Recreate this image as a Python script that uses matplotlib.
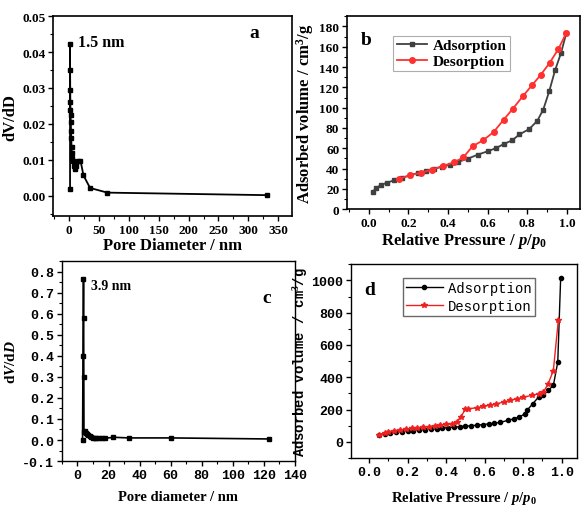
import numpy as np
import matplotlib
matplotlib.use('Agg')
import matplotlib.pyplot as plt
from matplotlib.ticker import MultipleLocator, FormatStrFormatter

# panel a: pore size distribution
a_d = [1.5, 1.5, 1.6, 1.8, 2.0, 2.2, 2.5, 2.8, 3.1, 3.5, 4.0, 4.5, 5.0, 6.0, 8.0, 10,
       12, 15, 19, 24, 35, 64, 331]
a_v = [0.002, 0.0423, 0.035, 0.0295, 0.026, 0.024, 0.0225, 0.0205, 0.018, 0.016,
       0.0135, 0.0118, 0.0105, 0.0098, 0.0082, 0.0075, 0.0082, 0.0098, 0.0098,
       0.0057, 0.0022, 0.0009, 0.0002]

# panel b: isotherm
b_ads_p = [0.02, 0.035, 0.064, 0.094, 0.13, 0.17, 0.21, 0.25, 0.29, 0.33, 0.37, 0.41,
           0.45, 0.50, 0.55, 0.60, 0.64, 0.68, 0.725, 0.76, 0.81, 0.85, 0.88, 0.91,
           0.94, 0.97, 0.997]
b_ads_v = [16.4, 20.6, 23.9, 26.2, 28.5, 31, 33.4, 35.7, 37.6, 39.6, 41.9, 43.8, 46.5,
           49.7, 53.7, 57, 60, 64, 68, 73.6, 79, 87, 98, 116, 137, 154, 174]
b_des_p = [0.997, 0.957, 0.912, 0.868, 0.823, 0.776, 0.727, 0.68, 0.63, 0.578, 0.524,
           0.477, 0.43, 0.373, 0.32, 0.266, 0.21, 0.153]
b_des_v = [174, 158, 144, 132.5, 122, 111, 99, 88, 76, 68, 62, 51, 46, 42.5, 39, 36,
           33.4, 30]

# panel c: pore size distribution
c_d = [3.3, 3.6, 3.9, 4.0, 4.1, 4.2, 4.6, 5.2, 6.0, 7.0, 8.0, 9.0, 10, 11, 12, 14, 16,
       18, 23, 33, 60, 123]
c_v = [0.0, 0.40, 0.765, 0.58, 0.30, 0.04, 0.042, 0.035, 0.028, 0.022, 0.018, 0.015,
       0.011, 0.009, 0.008, 0.008, 0.008, 0.008, 0.013, 0.010, 0.010, 0.005]

# panel d: isotherm
d_ads_p = [0.05, 0.08, 0.11, 0.14, 0.17, 0.2, 0.23, 0.26, 0.29, 0.32, 0.35, 0.38, 0.41,
           0.44, 0.47, 0.5, 0.53, 0.56, 0.59, 0.62, 0.65, 0.68, 0.72, 0.75, 0.78, 0.81,
           0.82, 0.85, 0.88, 0.905, 0.93, 0.957, 0.98, 0.995]
d_ads_v = [42, 50, 55, 60, 64, 67, 70, 73, 76, 79, 82, 85, 88, 91, 94, 97, 100, 103,
           107, 111, 115, 120, 133, 142, 154, 174, 195, 236, 277, 287, 318, 349, 493,
           1012]
d_des_p = [0.983, 0.957, 0.93, 0.905, 0.88, 0.845, 0.80, 0.77, 0.73, 0.70, 0.66, 0.63,
           0.59, 0.56, 0.515, 0.50, 0.475, 0.455, 0.43, 0.40, 0.37, 0.34, 0.31, 0.28,
           0.25, 0.22, 0.19, 0.16, 0.13, 0.10, 0.08, 0.05]
d_des_v = [753, 441, 359, 308, 298, 287, 277, 267, 257, 246, 236, 226, 220, 211, 205,
           201, 154, 125, 112, 108, 104, 100, 95, 91, 87, 83, 78, 73, 67, 62, 55, 45]

serif = 'Liberation Serif'
mono = 'Liberation Mono'

plt.rcParams['mathtext.fontset'] = 'custom'
plt.rcParams['mathtext.rm'] = 'Liberation Serif:bold'
plt.rcParams['mathtext.bf'] = 'Liberation Serif:bold'
plt.rcParams['mathtext.it'] = 'Liberation Serif:italic:bold'

fig = plt.figure(figsize=(5.84, 5.10), dpi=100)

def frame(ax, lw=1.2):
    for s in ax.spines.values():
        s.set_linewidth(lw)
    ax.tick_params(direction='out', length=3.5, width=1.0, pad=2)
    ax.tick_params(which='minor', direction='out', length=2, width=0.8)

# ---- a ----
ax_a = fig.add_axes([0.0908, 0.5745, 0.409, 0.392])
ax_a.plot(a_d, a_v, '-s', color='black', lw=1.3, ms=3.5)
ax_a.set_xlim(-27, 373)
ax_a.set_ylim(-0.0056, 0.05)
ax_a.xaxis.set_major_locator(MultipleLocator(50))
ax_a.xaxis.set_minor_locator(MultipleLocator(25))
ax_a.yaxis.set_major_locator(MultipleLocator(0.01))
ax_a.yaxis.set_minor_locator(MultipleLocator(0.005))
ax_a.yaxis.set_major_formatter(FormatStrFormatter('%.2f'))
frame(ax_a)
ax_a.set_xlabel('Pore Diameter / nm', fontfamily=serif, fontweight='bold', fontsize=12, labelpad=1)
ax_a.set_ylabel('dV/dD', fontfamily=serif, fontweight='bold', fontsize=12, labelpad=3)
ax_a.text(15, 0.0428, '1.5 nm', fontfamily=serif, fontweight='bold', fontsize=11.5, va='center')
ax_a.text(0.82, 0.92, 'a', transform=ax_a.transAxes, fontfamily=serif, fontweight='bold', fontsize=14, va='center')

# ---- b ----
ax_b = fig.add_axes([0.594, 0.588, 0.399, 0.378])
ax_b.plot(b_ads_p, b_ads_v, '-s', color='#404040', lw=1.3, ms=3.5, label='Adsorption')
ax_b.plot(b_des_p, b_des_v, '-o', color='#ff3030', lw=1.3, ms=4, label='Desorption')
ax_b.set_xlim(-0.11, 1.065)
ax_b.set_ylim(0, 190)
ax_b.xaxis.set_major_locator(MultipleLocator(0.2))
ax_b.xaxis.set_minor_locator(MultipleLocator(0.1))
ax_b.yaxis.set_major_locator(MultipleLocator(20))
ax_b.yaxis.set_minor_locator(MultipleLocator(10))
ax_b.xaxis.set_major_formatter(FormatStrFormatter('%.1f'))
frame(ax_b)
ax_b.set_xlabel('Relative Pressure / $\\mathit{p/p_0}$', fontfamily=serif, fontweight='bold', fontsize=12, labelpad=1)
ax_b.set_ylabel('Adsorbed volume / cm$^\\mathbf{3}$/g', fontfamily=serif, fontweight='bold', fontsize=12, labelpad=2)
ax_b.text(0.06, 0.88, 'b', transform=ax_b.transAxes, fontfamily=serif, fontweight='bold', fontsize=14, va='center')
leg = ax_b.legend(loc='upper left', bbox_to_anchor=(0.2, 0.9), prop={'family': serif, 'weight': 'bold', 'size': 11},
                  frameon=True, fancybox=False, edgecolor='#999999', handlelength=2.0,
                  borderpad=0.2, labelspacing=0.15, handletextpad=0.4, borderaxespad=0)
leg.get_frame().set_linewidth(0.8)

# ---- c ----
ax_c = fig.add_axes([0.106, 0.094, 0.399, 0.392])
ax_c.plot(c_d, c_v, '-s', color='black', lw=1.2, ms=3.5)
ax_c.set_xlim(-10, 140)
ax_c.set_ylim(-0.1, 0.85)
ax_c.xaxis.set_major_locator(MultipleLocator(20))
ax_c.xaxis.set_minor_locator(MultipleLocator(10))
ax_c.yaxis.set_major_locator(MultipleLocator(0.1))
ax_c.yaxis.set_minor_locator(MultipleLocator(0.05))
ax_c.yaxis.set_major_formatter(FormatStrFormatter('%.1f'))
frame(ax_c, lw=1.0)
ax_c.set_xlabel('Pore diameter / nm', fontfamily=serif, fontweight='bold', fontsize=10.5, labelpad=7)
ax_c.set_ylabel('d$\\mathit{V}$/d$\\mathit{D}$', fontfamily=serif, fontweight='bold', fontsize=11, labelpad=3)
ax_c.text(9, 0.733, '3.9 nm', fontfamily=serif, fontweight='bold', fontsize=10, va='center')
ax_c.text(0.86, 0.82, 'c', transform=ax_c.transAxes, fontfamily=serif, fontweight='bold', fontsize=14, va='center')

# ---- d ----
ax_d = fig.add_axes([0.601, 0.1, 0.387, 0.380])
ax_d.plot(d_ads_p, d_ads_v, '-o', color='black', lw=1.0, ms=3, label='Adsorption')
ax_d.plot(d_des_p, d_des_v, '-*', color='#ee2020', lw=1.0, ms=4, label='Desorption')
ax_d.set_xlim(-0.095, 1.08)
ax_d.set_ylim(-100, 1100)
ax_d.xaxis.set_major_locator(MultipleLocator(0.2))
ax_d.xaxis.set_minor_locator(MultipleLocator(0.1))
ax_d.yaxis.set_major_locator(MultipleLocator(200))
ax_d.yaxis.set_minor_locator(MultipleLocator(100))
ax_d.xaxis.set_major_formatter(FormatStrFormatter('%.1f'))
frame(ax_d, lw=1.0)
ax_d.set_xlabel('Relative Pressure / $\\mathit{p/p_0}$', fontfamily=serif, fontweight='bold', fontsize=10.5, labelpad=8)
ax_d.set_ylabel('Adsorbed volume / cm$^3$/g', fontfamily=mono, fontweight='bold', fontsize=10, labelpad=1)
ax_d.text(0.06, 0.87, 'd', transform=ax_d.transAxes, fontfamily=serif, fontweight='bold', fontsize=14, va='center')
leg = ax_d.legend(loc='upper left', bbox_to_anchor=(0.23, 0.93), prop={'family': mono, 'size': 10},
                  frameon=True, fancybox=False, edgecolor='#444444', handlelength=2.6,
                  borderpad=0.25, labelspacing=0.25, handletextpad=0.4, borderaxespad=0)
leg.get_frame().set_linewidth(1.0)

# draw once so tick labels exist, then restyle them
fig.canvas.draw()
for ax, fam, size in [(ax_a, serif, 9.5), (ax_b, serif, 9.5), (ax_c, mono, 9.5), (ax_d, mono, 9.5)]:
    for t in ax.get_xticklabels() + ax.get_yticklabels():
        t.set_fontfamily(fam)
        t.set_fontweight('bold')
        t.set_fontsize(size)

fig.savefig('out.png', dpi=100)
